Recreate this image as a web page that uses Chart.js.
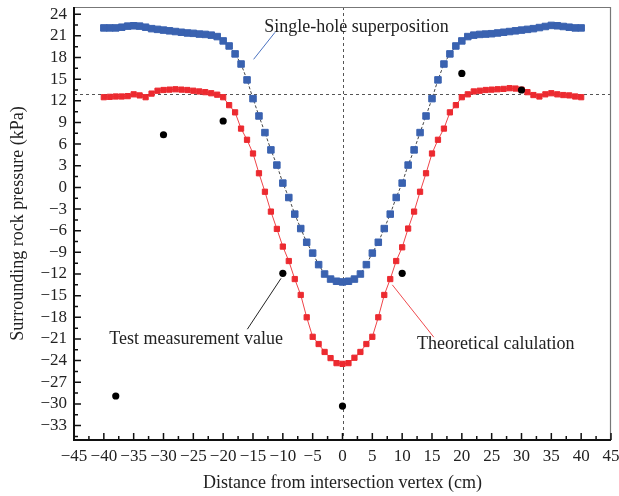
<!DOCTYPE html>
<html lang="en">
<head>
<meta charset="UTF-8">
<title>Surrounding rock pressure</title>
<script src="https://cdn.jsdelivr.net/npm/chart.js@4.4.0/dist/chart.umd.min.js"></script>
<style>
  html, body { margin: 0; padding: 0; background: #fff; }
  #wrap { width: 619px; height: 496px; }
</style>
</head>
<body>
<div id="wrap"><canvas id="graphCanvas"></canvas></div>
<script>
// distance from intersection vertex (cm)
var distance = [-40,-39,-38,-37,-36,-35,-34,-33,-32,-31,-30,-29,-28,-27,-26,-25,-24,-23,-22,-21,
  -20,-19,-18,-17,-16,-15,-14,-13,-12,-11,-10,-9,-8,-7,-6,-5,-4,-3,-2,-1,0,
  1,2,3,4,5,6,7,8,9,10,11,12,13,14,15,16,17,18,19,20,
  21,22,23,24,25,26,27,28,29,30,31,32,33,34,35,36,37,38,39,40];

// single-hole superposition (kPa)
var superposition = [22.1,22.1,22.1,22.2,22.35,22.4,22.35,22.2,22.0,21.9,21.8,21.7,21.6,21.5,21.4,21.35,21.25,21.2,21.1,20.9,
  20.3,19.6,18.5,17.1,14.9,12.3,9.9,7.6,5.2,3.1,0.6,-1.4,-3.7,-5.7,-7.6,-9.1,-10.7,-12.0,-12.7,-13.0,-13.1,
  -13.0,-12.7,-12.0,-10.7,-9.1,-7.6,-5.7,-3.7,-1.4,0.6,3.1,5.2,7.6,9.9,12.3,14.9,17.1,18.5,19.6,20.3,
  20.9,21.1,21.2,21.25,21.3,21.4,21.5,21.6,21.7,21.8,21.9,22.0,22.15,22.3,22.45,22.4,22.3,22.2,22.1,22.1];

// theoretical calculation (kPa)
var theoretical = [12.5,12.55,12.6,12.6,12.65,12.9,12.75,12.5,13.0,13.4,13.5,13.55,13.6,13.55,13.5,13.4,13.3,13.2,13.05,12.85,
  12.5,11.4,10.4,8.15,6.6,4.7,1.96,-0.6,-3.35,-5.75,-8.2,-10.2,-12.7,-14.9,-18.0,-20.7,-21.7,-22.8,-23.65,-24.35,-24.45,
  -24.35,-23.6,-22.8,-21.7,-20.7,-18.0,-14.9,-12.7,-10.2,-8.3,-5.7,-3.35,-0.6,1.96,4.7,6.6,8.15,10.4,11.4,12.5,
  12.9,13.3,13.4,13.5,13.55,13.6,13.65,13.75,13.7,13.55,13.2,12.8,12.6,12.9,13.05,12.9,12.8,12.75,12.6,12.5];

// test measurement value
var testDistance = [-38, -30, -20, -10, 0, 10, 20, 30];
var testValue = [-28.9, 7.3, 9.2, -11.9, -30.3, -11.9, 15.8, 13.5];

// axis ticks
var xTicks = [-45,-40,-35,-30,-25,-20,-15,-10,-5,0,5,10,15,20,25,30,35,40,45];
var yTicks = [-33,-30,-27,-24,-21,-18,-15,-12,-9,-6,-3,0,3,6,9,12,15,18,21,24];
var refLevel = 13;
var refDistance = 0;

var serif = "'Liberation Serif', 'DejaVu Serif', serif";

function pts(xs, ys) {
    var out = [];
    for (var i = 0; i < xs.length; i++) out.push({x: xs[i], y: ys[i]});
    return out;
}

function minus(v) { return String(v).replace('-', '\u2212'); }

// labels with leader lines, in data units
var notes = [
    {text: 'Single-hole superposition', x: -13.1, y: 22.2, from: [-14.9, 17.75], to: [-11.3, 21.5], line: '#4a72c0'},
    {text: 'Test measurement value', x: -39.1, y: -21.0, from: [-15.95, -19.65], to: [-10.3, -12.6], line: '#222'},
    {text: 'Theoretical calulation', x: 12.5, y: -21.7, from: [8.35, -13.5], to: [15.3, -20.75], line: '#ef4a4e'}
];

var frame = {
    id: 'frame',
    beforeDatasetsDraw: function (chart) {
        var ctx = chart.ctx, a = chart.chartArea, x = chart.scales.x, y = chart.scales.y;
        ctx.save();
        ctx.strokeStyle = '#555';
        ctx.lineWidth = 1;
        ctx.setLineDash([3, 3]);
        var py = Math.round(y.getPixelForValue(refLevel)) + 0.5;
        var px = Math.round(x.getPixelForValue(refDistance)) + 0.5;
        ctx.beginPath();
        ctx.moveTo(a.left, py); ctx.lineTo(a.right, py);
        ctx.moveTo(px, a.top); ctx.lineTo(px, a.bottom);
        ctx.stroke();
        ctx.setLineDash([]);
        // leader lines
        notes.forEach(function (n) {
            ctx.strokeStyle = n.line;
            ctx.lineWidth = 1;
            ctx.beginPath();
            ctx.moveTo(x.getPixelForValue(n.from[0]), y.getPixelForValue(n.from[1]));
            ctx.lineTo(x.getPixelForValue(n.to[0]), y.getPixelForValue(n.to[1]));
            ctx.stroke();
        });
        ctx.restore();
    },
    afterDraw: function (chart) {
        var ctx = chart.ctx, a = chart.chartArea, x = chart.scales.x, y = chart.scales.y;
        ctx.save();
        // top and right frame
        ctx.strokeStyle = '#777';
        ctx.lineWidth = 1.2;
        ctx.beginPath();
        ctx.moveTo(a.left, a.top + 0.5); ctx.lineTo(a.right - 0.5, a.top + 0.5); ctx.lineTo(a.right - 0.5, a.bottom);
        ctx.stroke();
        // inward tick marks
        ctx.strokeStyle = '#111';
        ctx.lineWidth = 1.5;
        ctx.beginPath();
        var i, p;
        for (i = 0; i < xTicks.length; i++) {
            p = x.getPixelForValue(xTicks[i]);
            ctx.moveTo(p, a.bottom); ctx.lineTo(p, a.bottom - 7);
            if (i < xTicks.length - 1) {
                p = x.getPixelForValue((xTicks[i] + xTicks[i + 1]) / 2);
                ctx.moveTo(p, a.bottom); ctx.lineTo(p, a.bottom - 4);
            }
        }
        for (i = 0; i < yTicks.length; i++) {
            p = y.getPixelForValue(yTicks[i]);
            ctx.moveTo(a.left, p); ctx.lineTo(a.left + 7, p);
            var mid = i === 0 ? yTicks[0] - 1.5 : (yTicks[i - 1] + yTicks[i]) / 2;
            p = y.getPixelForValue(mid);
            ctx.moveTo(a.left, p); ctx.lineTo(a.left + 4, p);
        }
        ctx.stroke();
        // axis lines
        ctx.lineWidth = 2;
        ctx.beginPath();
        ctx.moveTo(a.left, a.top); ctx.lineTo(a.left, a.bottom);
        ctx.lineTo(a.right, a.bottom);
        ctx.stroke();
        // note texts
        ctx.fillStyle = '#222';
        ctx.font = '18px ' + serif;
        ctx.textBaseline = 'middle';
        ctx.textAlign = 'left';
        notes.forEach(function (n) {
            ctx.fillText(n.text, x.getPixelForValue(n.x), y.getPixelForValue(n.y));
        });
        ctx.restore();
    }
};

var graphTarget = document.getElementById('graphCanvas');

var myChart = new Chart(graphTarget, {
    type: 'scatter',
    data: {
        datasets: [{
            label: 'Test measurement value',
            data: pts(testDistance, testValue),
            showLine: false,
            pointStyle: 'circle',
            pointRadius: 3.6,
            pointBackgroundColor: '#000',
            pointBorderColor: '#000',
            pointBorderWidth: 0
        }, {
            label: 'Theoretical calulation',
            data: pts(distance, theoretical),
            showLine: true,
            borderColor: '#ef4449',
            borderWidth: 1,
            pointStyle: 'rect',
            pointRadius: 3.7,
            pointBackgroundColor: '#ec2a30',
            pointBorderColor: '#ec2a30',
            pointBorderWidth: 1
        }, {
            label: 'Single-hole superposition',
            data: pts(distance, superposition),
            showLine: true,
            borderColor: '#444',
            borderWidth: 1,
            borderDash: [3, 2],
            pointStyle: 'rect',
            pointRadius: 4.6,
            pointBackgroundColor: '#3a62b0',
            pointBorderColor: '#3a62b0',
            pointBorderWidth: 1
        }]
    },
    options: {
        responsive: true,
        maintainAspectRatio: false,
        animation: false,
        layout: { padding: { top: 7, right: 8, left: 0, bottom: 0 } },
        plugins: { legend: { display: false }, tooltip: { enabled: false } },
        scales: {
            x: {
                type: 'linear',
                min: -45,
                max: 45,
                afterBuildTicks: function (s) { s.ticks = xTicks.map(function (v) { return {value: v}; }); },
                afterFit: function (s) { s.height = 56; s.paddingLeft = 0; s.paddingRight = 0; },
                grid: { display: false, drawTicks: false },
                border: { display: false },
                ticks: {
                    autoSkip: false,
                    maxRotation: 0,
                    padding: 6,
                    color: '#222',
                    font: { family: serif, size: 17 },
                    callback: minus
                },
                title: {
                    display: true,
                    text: 'Distance from intersection vertex (cm)',
                    color: '#222',
                    font: { family: serif, size: 18 },
                    padding: { top: 0, bottom: 2 }
                }
            },
            y: {
                type: 'linear',
                min: -35,
                max: 25,
                afterBuildTicks: function (s) { s.ticks = yTicks.map(function (v) { return {value: v}; }); },
                afterFit: function (s) { s.width = 74; s.paddingTop = 0; s.paddingBottom = 0; },
                grid: { display: false, drawTicks: false },
                border: { display: false },
                ticks: {
                    autoSkip: false,
                    padding: 7,
                    color: '#222',
                    font: { family: serif, size: 17 },
                    callback: minus
                },
                title: {
                    display: true,
                    text: 'Surrounding rock pressure (kPa)',
                    color: '#222',
                    font: { family: serif, size: 18 },
                    padding: { top: 7, bottom: 0 }
                }
            }
        }
    },
    plugins: [frame]
});
</script>
</body>
</html>
